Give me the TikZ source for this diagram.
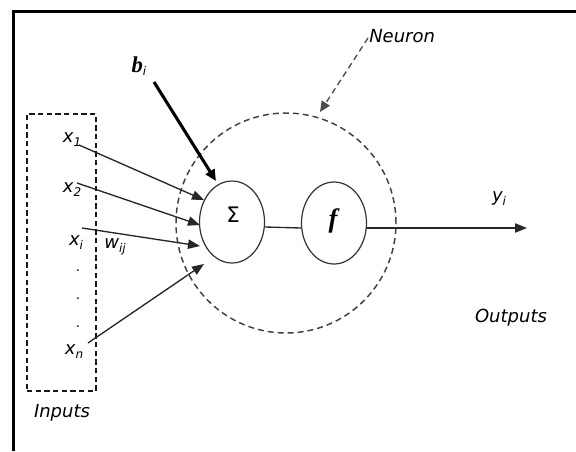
\documentclass[tikz,border=0pt]{standalone}
\usepackage{fontspec}
\setmainfont{DejaVu Sans}
\newfontfamily\timesfam{Liberation Serif}
\usetikzlibrary{arrows.meta,shapes.geometric}
\newcommand{\lowsub}[2]{\textit{#1}\raisebox{-0.4ex}{\fontsize{9}{9}\selectfont\textit{#2}}}
\begin{document}
\begin{tikzpicture}[x=0.75pt,y=-0.75pt,
  lbl/.style={font=\fontsize{13.5}{16}\selectfont\itshape, inner sep=0pt},
  inbox/.style={draw=black!90, line width=1pt, dash pattern=on 4pt off 2.5pt,
     minimum width=51.75pt, minimum height=207.75pt, inner sep=0pt},
  neuronc/.style={circle, draw=black!75, line width=1.1pt, dash pattern=on 4.5pt off 3pt,
     minimum size=165pt, inner sep=0pt},
  unit/.style={ellipse, draw=black!80, line width=0.9pt, minimum width=48.75pt,
     minimum height=61.5pt, inner sep=0pt, fill=white},
  wire/.style={draw=black!85, line width=1pt},
  arrowin/.style={wire, -{Triangle[length=9pt,width=7pt]}},
  biarrow/.style={draw=black, line width=2.3pt, -{Triangle[length=8.5pt,width=7.5pt]}},
  neuarrow/.style={draw=black!70, line width=1pt, dash pattern=on 4.5pt off 3pt,
     -{Triangle[length=8pt,width=7pt]}}
]
\useasboundingbox (0,0) rectangle (576,451);
% frame
\draw[line width=2.5pt, line join=miter] (13.5,451) -- (13.5,11.5) -- (576,11.5);

% nodes
\node[inbox] (inbox) at (61.5,252.5) {};
\node[neuronc] (neuron) at (286,223) {};
\node[unit] (sigma) at (232,222) {};
\node[unit] (f) at (334,223) {};
\node[inner sep=0pt, font=\fontsize{16}{18}\selectfont] (sigmatxt) at (233,215) {Σ};
\node[inner sep=0pt, font=\timesfam\fontsize{20}{22}\selectfont\bfseries\itshape] (ftxt) at (333,221) {f};

% labels
\node[lbl] (x1) at (72,140) {\lowsub{x}{1}};
\node[lbl] (x2) at (72,190) {\lowsub{x}{2}};
\node[lbl] (xi) at (76,243) {\lowsub{x}{i}};
\node[lbl, font=\fontsize{10}{12}\selectfont] (d1) at (78,271) {.};
\node[lbl, font=\fontsize{10}{12}\selectfont] (d2) at (78,299) {.};
\node[lbl, font=\fontsize{10}{12}\selectfont] (d3) at (78,327) {.};
\node[lbl] (xn) at (74,352) {\lowsub{x}{n}};
\node[lbl] (wij) at (115,247) {\lowsub{w}{ij}};
\node[lbl] (yi) at (499,199) {\lowsub{y}{i}};
\node[inner sep=0pt] (bi) at (139,66) {{\timesfam\fontsize{17}{19}\selectfont\bfseries\itshape b}\raisebox{-0.5ex}{\fontsize{9}{9}\selectfont\itshape i}};
\node[lbl, anchor=west] (neulbl) at (369,36) {Neuron};
\node[lbl] (outlbl) at (511,318) {Outputs};
\node[lbl] (inlbl) at (62,413) {Inputs};

% arrow end points
\coordinate (s1) at (79,145);  \coordinate (e1) at (204,200);
\coordinate (s2) at (77,183);  \coordinate (e2) at (200,225);
\coordinate (s3) at (82,228);  \coordinate (e3) at (200,246);
\coordinate (sn) at (88,343);  \coordinate (en) at (204,264);
\coordinate (bs) at (154,82);  \coordinate (be) at (216,181);
\coordinate (ns) at (368,38);  \coordinate (ne) at (320,112);
\coordinate (out) at (527,228);

\draw[arrowin] (s1) -- (e1);
\draw[arrowin] (s2) -- (e2);
\draw[arrowin] (s3) -- (e3);
\draw[arrowin] (sn) -- (en);
\draw[biarrow] (bs) -- (be);
\draw[neuarrow] (ns) -- (ne);
\draw[wire] ([yshift=-3.75pt]sigma.east) -- ([yshift=-3.75pt]f.west);
\draw[arrowin] ([yshift=-3.75pt]f.east) -- (out);
\end{tikzpicture}
\end{document}
